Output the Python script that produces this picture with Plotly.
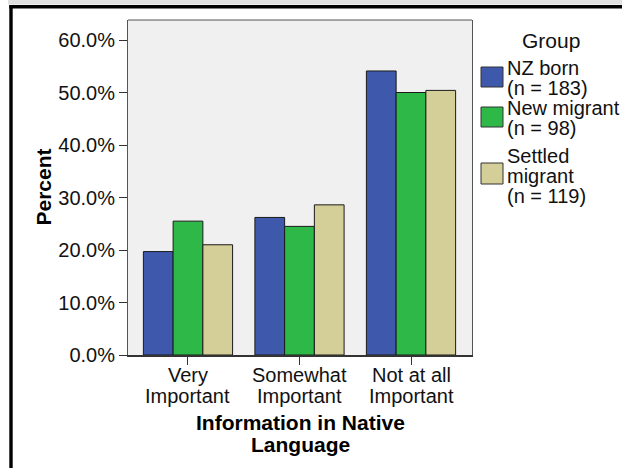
import plotly.graph_objects as go

# ---- data ----
categories = ["Very Important", "Somewhat Important", "Not at all Important"]
category_lines = [["Very", "Important"], ["Somewhat", "Important"], ["Not at all", "Important"]]
group_lines = [["NZ born", "(n = 183)"], ["New migrant", "(n = 98)"], ["Settled", "migrant", "(n = 119)"]]
nz_born = [19.7, 26.2, 54.1]
new_migrant = [25.5, 24.5, 50.0]
settled_migrant = [21.0, 28.6, 50.4]
y_ticks = [0, 10, 20, 30, 40, 50, 60]
x_title_lines = ["Information in Native", "Language"]
y_title = "Percent"
legend_title = "Group"

series = [nz_born, new_migrant, settled_migrant]
colors = ["#3e58ac", "#2eb848", "#d4ce98"]

W, H = 622, 468
L, R, T, B = 128, 150, 20, 113
PW, PH = W - L - R, H - T - B


def px(x):
    return (x - L) / PW


def py(y):
    return (H - B - y) / PH


FONT = "Liberation Sans, Arial, sans-serif"

fig = go.Figure()
for vals, lines, col in zip(series, group_lines, colors):
    fig.add_trace(go.Bar(
        x=categories, y=vals, name=" ".join(lines),
        marker=dict(color=col, line=dict(color="#1a1a1a", width=1)),
        showlegend=False,
    ))

annotations = []
shapes = []

# x tick labels (two lines, tight spacing)
for cat, lines in zip(categories, category_lines):
    for i, t in enumerate(lines):
        annotations.append(dict(x=cat, xref="x", y=py(374.5 + 21 * i), yref="paper",
                                text=t, showarrow=False, xanchor="center", yanchor="middle",
                                font=dict(family=FONT, size=20, color="#111")))

# x axis title
for i, t in enumerate(x_title_lines):
    annotations.append(dict(x=px(300), xref="paper", y=py(422.5 + 22.5 * i), yref="paper",
                            text="<b>%s</b>" % t, showarrow=False, xanchor="center", yanchor="middle",
                            font=dict(family=FONT, size=21, color="#000")))

# y axis title
annotations.append(dict(x=px(43), xref="paper", y=py(187.5), yref="paper", text="<b>%s</b>" % y_title,
                        textangle=-90, showarrow=False, xanchor="center", yanchor="middle",
                        font=dict(family=FONT, size=21, color="#000")))

# legend
annotations.append(dict(x=px(551), xref="paper", y=py(40.5), yref="paper", text=legend_title,
                        showarrow=False, xanchor="center", yanchor="middle",
                        font=dict(family=FONT, size=21, color="#111")))
swatch_y = [(67, 87), (107, 127), (163, 184)]
line_mid = [[68, 88], [108, 128], [155.5, 175.5, 195.5]]
for lines, col, (y0, y1), mids in zip(group_lines, colors, swatch_y, line_mid):
    shapes.append(dict(type="rect", xref="paper", yref="paper", x0=px(481), x1=px(503),
                       y0=py(y1), y1=py(y0), fillcolor=col, line=dict(color="#333", width=1)))
    for t, m in zip(lines, mids):
        annotations.append(dict(x=px(505), xref="paper", y=py(m), yref="paper", text=t,
                                showarrow=False, xanchor="left", yanchor="middle",
                                font=dict(family=FONT, size=20, color="#111")))

# outer frame (top & left, cropped figure)
shapes.append(dict(type="rect", xref="paper", yref="paper", x0=px(8), x1=px(622), y0=py(4.5), y1=py(0),
                   fillcolor="#e0e0e0", line=dict(width=0), layer="above"))
shapes.append(dict(type="rect", xref="paper", yref="paper", x0=px(9.3), x1=px(622), y0=py(8.5), y1=py(5),
                   fillcolor="#000", line=dict(width=0), layer="above"))
shapes.append(dict(type="rect", xref="paper", yref="paper", x0=px(9.3), x1=px(12.7), y0=py(468), y1=py(5),
                   fillcolor="#000", line=dict(width=0), layer="above"))
# top plot border
shapes.append(dict(type="line", xref="paper", yref="paper", x0=0, x1=1, y0=1, y1=1,
                   line=dict(color="#555", width=1)))

fig.update_layout(
    width=W, height=H,
    margin=dict(l=L, r=R, t=T, b=B, pad=0),
    paper_bgcolor="white", plot_bgcolor="#f0f0f0",
    barmode="group", bargap=0.2, bargroupgap=0,
    font=dict(family=FONT, size=20, color="#111"),
    annotations=annotations, shapes=shapes,
    showlegend=False,
)
fig.update_xaxes(
    range=[-0.538, 2.547], showticklabels=False, ticks="outside", ticklen=8, tickcolor="#333",
    showline=True, linecolor="#333", linewidth=2, mirror=False, showgrid=False, zeroline=False,
)
fig.update_yaxes(
    range=[0, 63.81], tickvals=y_ticks, ticktext=["%.1f%%" % v for v in y_ticks],
    ticks="outside", ticklen=8, tickcolor="#333", showgrid=False, zeroline=False,
    showline=True, linecolor="#555", linewidth=1, mirror=True,
    tickfont=dict(family=FONT, size=20, color="#111"), ticklabelstandoff=0,
)

fig.write_html("out.html", config={"displayModeBar": False},
               post_script="document.body.style.margin='0';")
